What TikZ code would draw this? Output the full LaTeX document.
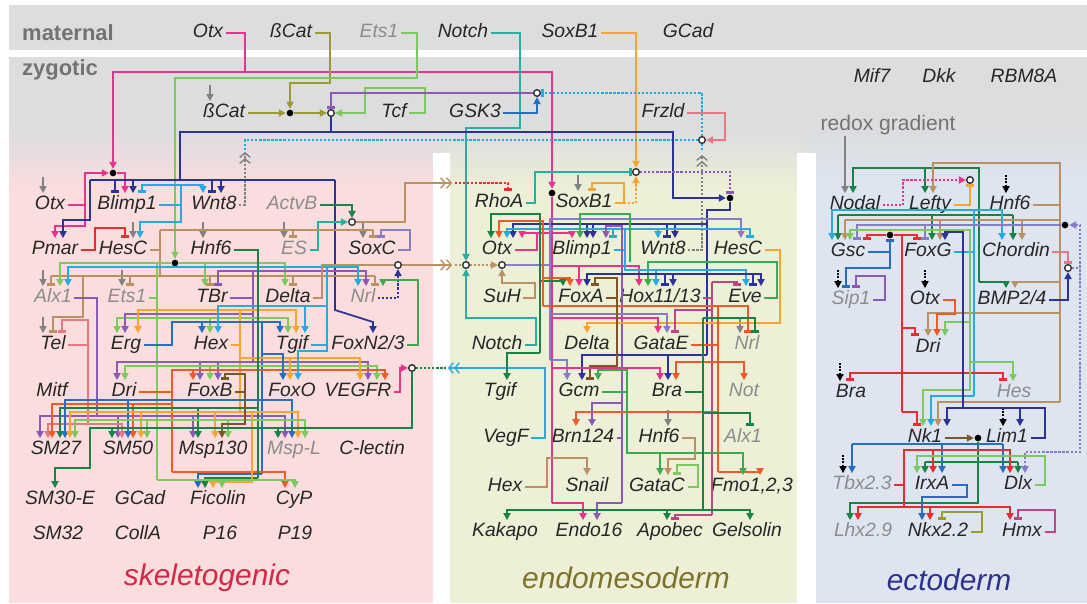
\documentclass[tikz,border=0pt]{standalone}
\usepackage{fontspec}
\setmainfont{Liberation Sans}
\usetikzlibrary{arrows.meta, calc}

\definecolor{bandgray}{RGB}{220,221,223}
\definecolor{skelpink}{RGB}{251,221,222}
\definecolor{endoyel}{RGB}{237,239,214}
\definecolor{ectoblue}{RGB}{222,229,241}
\definecolor{pinkc}{RGB}{232,50,140}
\definecolor{olivec}{RGB}{155,155,50}
\definecolor{lgreen}{RGB}{125,200,95}
\definecolor{mgreen}{RGB}{60,170,80}
\definecolor{tealc}{RGB}{40,175,160}
\definecolor{orangec}{RGB}{245,165,50}
\definecolor{navyc}{RGB}{45,50,150}
\definecolor{skyc}{RGB}{40,170,225}
\definecolor{bluem}{RGB}{40,110,190}
\definecolor{purplec}{RGB}{140,90,180}
\definecolor{lavc}{RGB}{135,125,195}
\definecolor{tanc}{RGB}{185,145,100}
\definecolor{brownc}{RGB}{125,85,40}
\definecolor{redc}{RGB}{230,45,50}
\definecolor{oredc}{RGB}{240,90,40}
\definecolor{dgreen}{RGB}{25,130,70}
\definecolor{mauvec}{RGB}{190,70,130}
\definecolor{salmonc}{RGB}{230,120,130}
\definecolor{grayc}{RGB}{130,130,130}

\newcommand{\genefont}{\fontsize{11}{11}\selectfont\itshape}

\begin{document}
\begin{tikzpicture}[
    x=0.02cm, y=-0.02cm,
    line width=1pt,
    gene/.style={font=\genefont, text=black!85, inner sep=1pt, text height=8pt, text depth=2.5pt},
    ggene/.style={gene, text=black!45},
    band/.style={font=\fontsize{12.5}{13}\selectfont\bfseries, text=black!55},
    region/.style={font=\fontsize{17}{17}\selectfont\itshape},
    act/.style={-{Triangle[length=4pt,width=4pt]}},
    rep/.style={-{Bar[width=4.5pt,line width=1.6pt]}},
    bothact/.style={{Triangle[length=4pt,width=4pt]}-{Triangle[length=4pt,width=4pt]}},
    chev/.style={-{Straight Barb[length=2.5pt,width=6pt,line width=0.8pt]Straight Barb[length=2.5pt,width=6pt,line width=0.8pt]}},
    sig/.style={densely dotted, line width=1.3pt},
    inp/.style={grayc, line width=0.8pt, -{Triangle[length=4pt,width=4pt]}},
    dinp/.style={black, densely dotted, line width=0.8pt, -{Triangle[length=4pt,width=4pt]}},
    blackdot/.style={circle, fill=black, inner sep=0pt, minimum size=3.8pt},
    junc/.style={circle, draw=black!80, fill=white, line width=0.8pt, inner sep=0pt, minimum size=3.8pt}
]
\useasboundingbox (0,0) rectangle (1087,603);

% Backgrounds
\fill[bandgray] (9,5) rectangle (1087,50);
\fill[bandgray] (9,57) rectangle (1087,132);
\shade[top color=bandgray, bottom color=skelpink] (9,131) rectangle (441,190);
\shade[top color=bandgray, bottom color=endoyel] (441,131) rectangle (806,190);
\shade[top color=bandgray, bottom color=ectoblue] (806,131) rectangle (1087,190);
\fill[skelpink] (9,189) rectangle (441,603);
\fill[endoyel] (441,189) rectangle (806,603);
\fill[ectoblue] (806,189) rectangle (1087,603);
\fill[white] (433,153) rectangle (450,603);
\fill[white] (797,153) rectangle (816,603);

% Maternal
\node[band] (lblMat) at (68,33) {maternal};
\node[gene] (mOtx) at (208,33) {Otx};
\node[gene] (mBCat) at (291,33) {ßCat};
\node[ggene] (mEts) at (379,33) {Ets1};
\node[gene] (mNotch) at (463,33) {Notch};
\node[gene] (mSoxB) at (570,33) {SoxB1};
\node[gene] (mGCad) at (688,33) {GCad};

% Zygotic
\node[band] (lblZyg) at (60,70) {zygotic};
\node[gene] (zBCat) at (224,113) {ßCat};
\node[gene] (zTcf) at (394,113) {Tcf};
\node[gene] (zGSK) at (475,113) {GSK3};
\node[gene] (zFrzld) at (663,113) {Frzld};
\node[gene] (zMif) at (872,78) {Mif7};
\node[gene] (zDkk) at (939,78) {Dkk};
\node[gene] (zRBM) at (1024,78) {RBM8A};
\node[font=\fontsize{12}{12}\selectfont, text=black!55] (redox) at (888,125) {redox gradient};

% Skeletogenic
\node[gene] (skOtx) at (50,205) {Otx};
\node[gene] (skBlimp) at (127,205) {Blimp1};
\node[gene] (skWnt) at (214,205) {Wnt8};
\node[ggene] (skActvB) at (292,205) {ActvB};
\node[gene] (skPmar) at (55,250) {Pmar};
\node[gene] (skHesC) at (123,250) {HesC};
\node[gene] (skHnf) at (211,250) {Hnf6};
\node[ggene] (skES) at (294,250) {ES};
\node[gene] (skSoxC) at (372,250) {SoxC};
\node[ggene] (skAlx) at (53,298) {Alx1};
\node[ggene] (skEts) at (127,298) {Ets1};
\node[gene] (skTBr) at (212,298) {TBr};
\node[gene] (skDelta) at (288,298) {Delta};
\node[ggene] (skNrl) at (363,298) {Nrl};
\node[gene] (skTel) at (53,345) {Tel};
\node[gene] (skErg) at (126,345) {Erg};
\node[gene] (skHex) at (211,345) {Hex};
\node[gene] (skTgif) at (292,345) {Tgif};
\node[gene] (skFoxN) at (368,345) {FoxN2/3};
\node[gene] (skMitf) at (52,392) {Mitf};
\node[gene] (skDri) at (124,392) {Dri};
\node[gene] (skFoxB) at (210,392) {FoxB};
\node[gene] (skFoxO) at (292,392) {FoxO};
\node[gene] (skVEGFR) at (358,392) {VEGFR};
\node[gene] (skSM27) at (56,450) {SM27};
\node[gene] (skSM50) at (128,450) {SM50};
\node[gene] (skMsp) at (213,450) {Msp130};
\node[ggene] (skMspL) at (294,450) {Msp-L};
\node[gene] (skClec) at (372,450) {C-lectin};
\node[gene] (skSM30) at (60,500) {SM30-E};
\node[gene] (skGCad) at (140,500) {GCad};
\node[gene] (skFic) at (218,500) {Ficolin};
\node[gene] (skCyP) at (294,500) {CyP};
\node[gene] (skSM32) at (58,535) {SM32};
\node[gene] (skColl) at (138,535) {CollA};
\node[gene] (skP16) at (220,535) {P16};
\node[gene] (skP19) at (295,535) {P19};
\node[region, text={rgb,255:red,210;green,40;blue,70}] (lblSkel) at (207,578) {skeletogenic};

% Endomesoderm
\node[gene] (enRhoA) at (499,203) {RhoA};
\node[gene] (enSoxB) at (584,203) {SoxB1};
\node[gene] (enOtx) at (497,250) {Otx};
\node[gene] (enBlimp) at (582,250) {Blimp1};
\node[gene] (enWnt) at (663,250) {Wnt8};
\node[gene] (enHesC) at (738,250) {HesC};
\node[gene] (enSuH) at (502,298) {SuH};
\node[gene] (enFoxA) at (581,298) {FoxA};
\node[gene] (enHox) at (660,298) {Hox11/13};
\node[gene] (enEve) at (745,298) {Eve};
\node[gene] (enNotch) at (497,345) {Notch};
\node[gene] (enDelta) at (587,345) {Delta};
\node[gene] (enGataE) at (661,345) {GataE};
\node[ggene] (enNrl) at (747,345) {Nrl};
\node[gene] (enTgif) at (500,392) {Tgif};
\node[gene] (enGcm) at (579,392) {Gcm};
\node[gene] (enBra) at (667,392) {Bra};
\node[ggene] (enNot) at (744,392) {Not};
\node[gene] (enVegF) at (506,438) {VegF};
\node[gene] (enBrn) at (583,438) {Brn124};
\node[gene] (enHnf) at (659,438) {Hnf6};
\node[ggene] (enAlx) at (743,438) {Alx1};
\node[gene] (enHex) at (505,487) {Hex};
\node[gene] (enSnail) at (587,487) {Snail};
\node[gene] (enGataC) at (657,487) {GataC};
\node[gene] (enFmo) at (752,487) {Fmo1,2,3};
\node[gene] (enKak) at (505,532) {Kakapo};
\node[gene] (enEndo) at (589,532) {Endo16};
\node[gene] (enApo) at (670,532) {Apobec};
\node[gene] (enGel) at (747,532) {Gelsolin};
\node[region, text={rgb,255:red,125;green,115;blue,45}] (lblEndo) at (626,578) {endomesoderm};

% Ectoderm
\node[gene] (ecNodal) at (855,205) {Nodal};
\node[gene] (ecLefty) at (930,205) {Lefty};
\node[gene] (ecHnf) at (1010,205) {Hnf6};
\node[gene] (ecGsc) at (848,252) {Gsc};
\node[gene] (ecFoxG) at (928,252) {FoxG};
\node[gene] (ecChord) at (1016,252) {Chordin};
\node[ggene] (ecSip) at (851,300) {Sip1};
\node[gene] (ecOtx) at (925,300) {Otx};
\node[gene] (ecBMP) at (1012,300) {BMP2/4};
\node[gene] (ecDri) at (928,348) {Dri};
\node[gene] (ecBra) at (851,393) {Bra};
\node[ggene] (ecHes) at (1014,393) {Hes};
\node[gene] (ecNk1) at (925,438) {Nk1};
\node[gene] (ecLim) at (1007,438) {Lim1};
\node[ggene] (ecTbx) at (862,485) {Tbx2.3};
\node[gene] (ecIrx) at (932,485) {IrxA};
\node[gene] (ecDlx) at (1018,485) {Dlx};
\node[ggene] (ecLhx) at (863,532) {Lhx2.9};
\node[gene] (ecNkx) at (938,532) {Nkx2.2};
\node[gene] (ecHmx) at (1022,532) {Hmx};
\node[region, text={rgb,255:red,45;green,50;blue,140}] (lblEcto) at (949,580) {ectoderm};

% Junctions
\node[blackdot] (zDot1) at (290,113) {};
\node[junc] (zJ1) at (331,113) {};
\node[junc] (zJ2) at (537,93) {};
\node[junc] (zJ3) at (702,140) {};
\node[blackdot] (skDot1) at (113,173) {};
\node[blackdot] (skDot2) at (175,263) {};
\node[junc] (skJ1) at (352,222) {};
\node[junc] (skJ2) at (398,265) {};
\node[junc] (skJ3) at (412,368) {};
\node[blackdot] (enDot1) at (552,193) {};
\node[junc] (enJ1) at (636,172) {};
\node[blackdot] (enDot2) at (730,198) {};
\node[junc] (enJ2) at (466,265) {};
\node[junc] (enJ3) at (502,265) {};
\node[junc] (ecJ1) at (970,180) {};
\node[blackdot] (ecDot1) at (1065,225) {};
\node[junc] (ecJ2) at (1068,268) {};
\node[blackdot] (ecDot2) at (890,235) {};
\node[blackdot] (ecDot3) at (978,438) {};

% Maternal inputs
\draw[act,pinkc] (mOtx.east) -| (245,72) -| (enDot1.north);
\draw[act,pinkc] (245,72) -| (skDot1.north);
\draw[act,olivec] (mBCat.east) -| (330,83) -| (zDot1.north);
\draw[act,lgreen] (mEts.east) -| (417,78) -| (skDot2.north);
\draw[act,tealc] (mNotch.east) -| (520,128) -| (enJ2.north);
\draw[act,orangec] (mSoxB.east) -| (enJ1.north);

% Wnt / beta-catenin
\draw[inp] ($(zBCat.north)+(-14,-16)$) -- ++(0,16);
\draw[act,olivec] (zBCat.east) -- (zDot1.west);
\draw[act,olivec] (zDot1.east) -- (zJ1.west);
\draw[act,lgreen] (zTcf.east) -- (425,113) |- (365,88) |- (zJ1.east);
\draw[act,bluem] (zGSK.east) -| (zJ2.south);
\draw[rep,purplec] (zJ2.west) -| (zJ1.north);
\draw[rep,skyc,sig] (zJ3.north) |- (zJ2.east);
\draw[act,salmonc] (zFrzld.east) -| (725,140) -- (zJ3.east);
\draw[skyc,sig] (245,150) |- (zJ3.west);
\draw[grayc,sig,chev] (skWnt.east) -| (245,152);
\draw[grayc,sig,chev] (enWnt.east) -| (702,155);
\draw[skyc,sig] (702,150) -- (zJ3.south);
\draw[act,navyc] (zJ1.south) |- (673,132) |- (enDot2.west);

% Skeletogenic: inputs
\draw[inp] ($(skOtx.north)+(-7,-16)$) -- ++(0,16);
\draw[inp] ($(skHesC.north)+(10,-16)$) -- ++(0,16);
\draw[inp] ($(skHnf.north)+(-8,-16)$) -- ++(0,16);
\draw[inp] ($(skES.north)+(-10,-16)$) -- ++(0,16);
\draw[inp] ($(skSoxC.north)+(-9,-16)$) -- ++(0,16);
\draw[inp] ($(skAlx.north)+(-10,-16)$) -- ++(0,16);
\draw[inp] ($(skEts.north)+(-5,-16)$) -- ++(0,16);
\draw[inp] ($(skTel.north)+(-10,-16)$) -- ++(0,16);

% Skeletogenic: top
\draw[act,pinkc] (skOtx.east) -- (85,205) |- (skDot1.west);
\draw[act,pinkc] (85,205) |- (55,226) -- (skPmar.north);
\draw[act,pinkc] (skDot1.east) -| ($(skBlimp.north)+(-2,0)$);
\draw[navyc] (331,132) -| (180,180) (90,180) -- (335,180);
\draw[act,navyc] (90,180) |- (63,220) -- ($(skPmar.north)+(8,0)$);
\draw[navyc] (115,180) edge[rep] ($(skBlimp.north)+(-12,0)$) (133,180) edge[act] ($(skBlimp.north)+(6,0)$)
    (212,180) edge[rep] ($(skWnt.north)+(-2,0)$) (221,180) edge[act] ($(skWnt.north)+(7,0)$);
\draw[act,navyc] (335,180) -- (335,310) -- (373,322) -- ($(skFoxN.north)+(5,0)$);
\draw[act,skyc] (skBlimp.east) -- (181,205) |- (203,185) -- ($(skWnt.north)+(-11,0)$);
\draw[rep,skyc] (181,185) -| ($(skBlimp.north)+(15,0)$);
\draw[act,skyc] (181,205) |- (140,222) -- ($(skHesC.north)+(17,0)$);
\draw[rep,redc] (skPmar.east) -- (95,250) |- (125,228) -- ($(skHesC.north)+(2,0)$);
\draw[act,dgreen] (skActvB.east) -| (skJ1.north);
\draw[act,tealc] (skES.east) -- (318,250) |- (skJ1.west);
\draw[rep,lavc] (skSoxC.east) -- (410,250) |- (381,230) -- ($(skSoxC.north)+(9,0)$);

% Skeletogenic: HesC repression
\draw[tanc] (skHesC.east) -- (160,250) (160,230) -- (160,276);
\draw[tanc] (160,230) -- (373,230) (293,230) edge[rep] ($(skES.north)+(-1,0)$) (373,230) edge[rep] ($(skSoxC.north)+(1,0)$);
\draw[tanc] (51,276) -- (375,276) (51,276) edge[rep] ($(skAlx.north)+(-2,0)$) (130,276) edge[rep] ($(skEts.north)+(3,0)$)
    (210,276) edge[rep] ($(skTBr.north)+(-2,0)$) (293,276) edge[rep] ($(skDelta.north)+(5,0)$) (375,276) edge[rep] ($(skNrl.north)+(12,0)$);
\draw[rep,tanc] (83,276) |- (53,317) -- (skTel.north);

% Skeletogenic: Ets1 / Alx1 level
\draw[act,lgreen] (skDot2.west) -| ($(skAlx.north)+(7,0)$);
\draw[act,lgreen] (skDot2.east) -| ($(skDelta.north)+(-3,0)$);
\draw[lgreen] (205,263) edge[act] ($(skTBr.north)+(-7,0)$);
\draw[lgreen] (skEts.east) -- (157,298) (157,263) -- (157,480);
\draw[purplec] (skTBr.east) -- (253,298) (253,271) -- (253,362);
\draw[rep,purplec] (253,271) -| ($(skTBr.north)+(6,0)$);
\draw[act,purplec] (253,271) -| ($(skNrl.north)+(3,0)$);
\draw[skyc] (skTgif.east) -| (327,267);
\draw[act,skyc] (327,267) -| ($(skAlx.north)+(15,0)$);
\draw[act,skyc] (327,267) -| ($(skNrl.north)+(-5,0)$);
\draw[tanc] (skDelta.east) -- (322,298) |- (skJ2.west);
\draw[act,navyc,sig] (skNrl.east) -| (skJ2.south);
\draw[act,mgreen] (skFoxN.east) -- (418,345) |- (383,280) -- ($(skNrl.north)+(20,0)$);

% Skeletogenic: Erg / Hex / Tgif
\draw[act,lgreen] (157,318) -| ($(skErg.north)+(-9,0)$);
\draw[act,lgreen] (157,318) -| ($(skHex.north)+(-1,0)$);
\draw[act,lgreen] (157,318) -| ($(skTgif.north)+(-4,0)$);
\draw[act,purplec] (253,314) -| ($(skErg.north)+(-1,0)$);
\draw[orangec] (skHex.east) -- (240,345) (240,310) -- (240,412);
\draw[act,orangec] (240,310) -| ($(skErg.north)+(12,0)$);
\draw[act,orangec] (240,310) -| ($(skTgif.north)+(4,0)$);
\draw[bluem] (skErg.east) -| (172,322) -- (262,322) -- (262,474);
\draw[bluem] (202,322) edge[act] ($(skHex.north)+(-9,0)$);
\draw[act,bluem] (262,322) -| ($(skTgif.north)+(-12,0)$);
\draw[act,skyc] (327,306) -| ($(skHex.north)+(7,0)$);
\draw[skyc] (305,306) edge[act] ($(skTgif.north)+(13,0)$);
\draw[rep,salmonc] (skTel.east) -| (88,320) -| ($(skTel.north)+(9,0)$);

% Skeletogenic: Dri / FoxB / FoxO / VEGFR
\draw[act,purplec] (253,362) -| ($(skDri.north)+(-7,0)$);
\draw[act,purplec] (253,362) -| ($(skFoxB.north)+(-10,0)$);
\draw[act,purplec] (253,362) -| ($(skFoxB.north)+(8,0)$);
\draw[act,purplec] (253,362) -| ($(skVEGFR.north)+(10,0)$);
\draw[act,lgreen] (157,366) -| ($(skDri.north)+(1,0)$);
\draw[act,lgreen] (157,366) -| ($(skFoxB.north)+(0,0)$);
\draw[act,lgreen] (157,366) -| ($(skVEGFR.north)+(19,0)$);
\draw[act,oredc] (skDri.east) -| (172,370) -| ($(skFoxB.north)+(-17,0)$);
\draw[act,oredc] (172,370) -| ($(skVEGFR.north)+(27,0)$);
\draw[act,orangec] (240,358) -| ($(skFoxO.north)+(-2,0)$);
\draw[act,orangec] (240,358) -| ($(skVEGFR.north)+(2,0)$);
\draw[act,bluem] (262,354) -| ($(skFoxO.north)+(-9,0)$);
\draw[act,skyc] (327,345) -- (327,351) -| ($(skFoxO.north)+(6,0)$);
\draw[rep,brownc] (skFoxB.east) -- (245,392) |- (225,374) -- ($(skFoxB.north)+(15,0)$);
\draw[act,pinkc] (skVEGFR.east) -- (400,392) |- (skJ3.west);

% Skeletogenic: differentiation genes
\draw[purplec] (skAlx.east) -- (97,298) -- (97,416);
\draw[act,purplec] (97,416) -| ($(skSM27.north)+(-16,0)$);
\draw[act,purplec] (97,416) -| ($(skSM50.north)+(-10,0)$);
\draw[act,purplec] (97,416) -| ($(skMsp.north)+(-20,0)$);
\draw[act,purplec] (97,416) -| ($(skMspL.north)+(-9,0)$);
\draw[act,salmonc] (88,345) |- (48,424) -- ($(skSM27.north)+(-8,0)$);
\draw[act,salmonc] (88,424) -| ($(skSM50.north)+(-6,0)$);
\draw[oredc] (172,392) -- (172,472);
\draw[act,oredc] (172,404) -| ($(skSM27.north)+(-4,0)$);
\draw[act,oredc] (172,404) -| ($(skSM50.north)+(5,0)$);
\draw[act,oredc] (172,472) -| ($(skCyP.north)+(-9,0)$);
\draw[dgreen] (skHnf.east) -| (258,478);
\draw[act,dgreen] (258,408) -| ($(skSM27.north)+(4,0)$);
\draw[act,dgreen] (258,408) -| ($(skMsp.north)+(-15,0)$);
\draw[act,dgreen] (258,478) -| ($(skFic.north)+(-13,0)$);
\draw[act,bluem] (262,400) -| ($(skSM27.north)+(9,0)$);
\draw[act,bluem] (262,400) -| ($(skSM50.north)+(0,0)$);
\draw[act,bluem] (262,400) -| ($(skMspL.north)+(-2,0)$);
\draw[act,bluem] (262,474) -| ($(skFic.north)+(-20,0)$);
\draw[act,orangec] (240,412) -| ($(skSM27.north)+(14,0)$);
\draw[act,orangec] (240,412) -| ($(skSM50.north)+(13,0)$);
\draw[act,orangec] (240,412) -| ($(skMsp.north)+(2,0)$);
\draw[act,orangec] (240,412) -| ($(skMspL.north)+(4,0)$);
\draw[act,orangec] (240,412) -| (252,482) -| ($(skFic.north)+(-5,0)$);
\draw[act,lgreen] (157,420) -| ($(skSM27.north)+(19,0)$);
\draw[act,lgreen] (157,420) -| ($(skSM50.north)+(19,0)$);
\draw[act,lgreen] (157,420) -| ($(skMsp.north)+(15,0)$);
\draw[act,lgreen] (157,420) -| ($(skMspL.north)+(11,0)$);
\draw[act,lgreen] (157,480) -| ($(skFic.north)+(4,0)$);
\draw[act,lgreen] (157,480) -| ($(skCyP.north)+(1,0)$);
\draw[act,brownc] (245,392) |- (222,424) -- ($(skMsp.north)+(9,0)$);
\draw[act,dgreen] (skJ3.south) |- (90,428) -- (90,468) -| ($(skSM30.north)+(-5,0)$);
\draw[dgreen] (112,428) edge[act] ($(skSM50.north)+(-16,0)$) (278,428) edge[act] ($(skMspL.north)+(-16,0)$);

% Signals between territories
\draw[tanc,chev] (skJ1.east) -- (405,222) |- (452,183);
\draw[rep,redc,sig] (455,183) -| ($(enRhoA.north)+(9,0)$);
\draw[tanc,chev] (skJ2.east) -- (452,265);
\draw[tanc,sig] (455,265) -- (enJ2.west);
\draw[act,tanc,sig] (enJ2.east) -- (enJ3.west);
\draw[dgreen,sig] (skJ3.east) -- (446,368);
\draw[skyc,chev] (enVegF.east) -- (545,438) |- (448,368);

% Endomesoderm: inputs
\draw[inp] ($(enSoxB.north)+(-6,-16)$) -- ++(0,16);
\draw[inp] ($(enNrl.north)+(-7,-16)$) -- ++(0,16);
\draw[inp] ($(enHnf.north)+(9,-16)$) -- ++(0,16);

% Endomesoderm: top
\draw[rep,tealc] (enRhoA.east) -- (535,203) |- (enJ1.west);
\draw[rep,purplec,sig] (enJ1.east) -| (enDot2.north);
\draw[rep,orangec] (enSoxB.east) -- (624,203) |- (592,183) -- ($(enSoxB.north)+(8,0)$);
\draw[act,orangec,sig] (624,203) -| (enJ1.south);
\draw[act,tanc] (enSuH.east) -- (535,298) |- (502,283) -- (enJ3.south);
\draw[act,tealc] (enNotch.east) -- (536,345) |- (466,318) -- (enJ2.south);
\draw[lavc, line width=1.3pt] (enJ3.east) -- (550,265);

% Endomesoderm: Otx / Blimp1 / Wnt8 / HesC
\draw[pinkc] (enDot1.south) -- (552,503);
\draw[act,pinkc] (enOtx.east) -- (537,250) |- (522,233) -- ($(enOtx.north)+(25,0)$);
\draw[act,pinkc] (537,233) -| ($(enBlimp.north)+(-10,0)$);
\draw[navyc] (enDot2.south) |- (707,210) -- (707,355);
\draw[act,navyc] (707,224) -| ($(enOtx.north)+(16,0)$);
\draw[act,navyc] (707,224) -| ($(enBlimp.north)+(5,0)$);
\draw[act,navyc] (707,224) -| ($(enBlimp.north)+(11,0)$);
\draw[act,navyc] (707,224) -| ($(enWnt.north)+(12,0)$);
\draw[rep,navyc] (707,224) -| ($(enWnt.north)+(4,0)$);
\draw[act,lavc, line width=1.3pt] (550,360) |- (741,219) -- ($(enHesC.north)+(3,0)$);
\draw[act,skyc] (enBlimp.east) -- (625,250) |- (507,229) -- ($(enOtx.north)+(10,0)$);
\draw[act,skyc] (625,229) -| ($(enWnt.north)+(-5,0)$);
\draw[rep,skyc] (625,229) -| ($(enHesC.north)+(12,0)$);
\draw[rep,skyc] (613,229) -- ($(enBlimp.north)+(31,0)$);
\draw[act,dgreen] (540,353) |- (491,214) -- ($(enOtx.north)+(-6,0)$);
\draw[act,dgreen] (540,281) -| ($(enFoxA.north)+(-18,0)$);
\draw[act,dgreen] (540,353) -| ($(enTgif.north)+(7,0)$);
\draw[act,mgreen] (enEve.east) -- (777,298) |- (648,262) -- ($(enHox.north)+(-12,0)$);
\draw[act,mgreen] (630,262) |- (580,214) -- ($(enBlimp.north)+(-2,0)$);
\draw[act,purplec] (622,503) |- (606,226) -- ($(enBlimp.north)+(24,0)$);

% Endomesoderm: FoxA / Hox11/13 / Eve
\draw[act,pinkc] (552,266) -| ($(enFoxA.north)+(-2,0)$);
\draw[act,pinkc] (552,266) -| ($(enHox.north)+(-21,0)$);
\draw[act,skyc] (625,250) |- (746,270) -- ($(enEve.north)+(1,0)$);
\draw[skyc] (656,270) edge[act] ($(enHox.north)+(-4,0)$);
\draw[act,navyc] (707,274) -| ($(enFoxA.north)+(6,0)$);
\draw[rep,navyc] (707,274) -| ($(enHox.north)+(5,0)$);
\draw[act,navyc] (707,274) -| ($(enHox.north)+(13,0)$);
\draw[rep,navyc] (707,274) -| ($(enEve.north)+(8,0)$);
\draw[act,navyc] (707,274) -| ($(enEve.north)+(16,0)$);
\draw[act,oredc] (543,306) |- (499,221) -- ($(enOtx.north)+(2,0)$);
\draw[act,oredc] (543,278) -| ($(enFoxA.north)+(-11,0)$);
\draw[rep,brownc] (enFoxA.east) -- (617,298) |- (595,278) -- ($(enFoxA.north)+(14,0)$);
\draw[mauvec] (enHox.east) -- (712,298) (712,282) -- (712,515);
\draw[rep,mauvec] (712,282) -| ($(enEve.north)+(-8,0)$);

% Endomesoderm: Delta / GataE / Nrl
\draw[act,orangec] (enHesC.east) -- (780,250) |- (587,323) -- (enDelta.north);
\draw[act,pinkc] (552,318) -| ($(enGataE.north)+(-3,0)$);
\draw[act,lavc, line width=1.3pt] (550,314) -| ($(enGataE.north)+(6,0)$);
\draw[rep,mauvec] (712,310) -| ($(enGataE.north)+(14,0)$);
\draw[rep,oredc] (543,306) -| ($(enNrl.north)+(1,0)$);
\draw[oredc] (enGataE.east) -- (718,345) (718,306) -- (718,472);

% Endomesoderm: Tgif / Gcm / Bra / Not
\draw[act,lavc, line width=1.3pt] (550,360) -| ($(enGcm.north)+(-12,0)$);
\draw[act,navyc] (707,355) -| ($(enGcm.north)+(3,0)$);
\draw[act,navyc] (707,355) -| ($(enBra.north)+(1,0)$);
\draw[rep,brownc] (617,298) |- (590,366) -- ($(enGcm.north)+(11,0)$);
\draw[act,mgreen] (enGcm.east) -- (627,392) |- (598,370) -- ($(enGcm.north)+(19,0)$);
\draw[act,pinkc] (552,368) -| ($(enBra.north)+(-7,0)$);
\draw[act,oredc] (718,362) -| ($(enBra.north)+(9,0)$);
\draw[act,oredc] (718,362) -| ($(enNot.north)+(0,0)$);
\draw[dgreen] (enBra.east) -- (703,392);
\draw[rep,dgreen] (703,318) -| ($(enNrl.north)+(8,0)$);

% Endomesoderm: lower genes
\draw[act,oredc] (718,412) -| ($(enBrn.north)+(-7,0)$);
\draw[act,oredc] (718,472) -| ($(enFmo.north)+(8,0)$);
\draw[purplec] (enBrn.east) -- (622,438);
\draw[act,purplec] (622,403) -| ($(enBrn.north)+(9,0)$);
\draw[rep,dgreen] (703,413) -| ($(enAlx.north)+(7,0)$);
\draw[act,mgreen] (627,392) |- (743,453) -- ($(enFmo.north)+(-9,0)$);
\draw[mgreen] (660,453) edge[act] ($(enGataC.north)+(3,0)$);
\draw[act,tanc] (enHnf.east) -- (695,438) |- (668,459) -- ($(enGataC.north)+(11,0)$);
\draw[rep,lgreen] (enGataC.east) -- (698,487) |- (677,465) -- ($(enGataC.north)+(20,0)$);
\draw[act,tanc] (enHex.east) -- (547,487) |- (587,458) -- (enSnail.north);
\draw[act,pinkc] (552,503) -| ($(enEndo.north)+(-6,0)$);
\draw[act,purplec] (622,503) -| ($(enEndo.north)+(8,0)$);
\draw[act,dgreen] (703,318) -- (703,510) -| ($(enKak.north)+(2,0)$);
\draw[act,dgreen] (703,510) -| ($(enGel.north)+(3,0)$);
\draw[dgreen] (667,510) edge[act] ($(enApo.north)+(-3,0)$);
\draw[rep,mauvec] (712,515) -| ($(enApo.north)+(5,0)$);

% Ectoderm: inputs
\draw[act,grayc] (845,136) -- ($(ecNodal.north)+(-10,0)$);
\draw[dinp] ($(ecHnf.north)+(-4,-18)$) -- ++(0,18);
\draw[dinp] ($(ecSip.north)+(-13,-18)$) -- ++(0,18);
\draw[dinp] ($(ecOtx.north)+(0,-18)$) -- ++(0,18);
\draw[dinp] ($(ecBra.north)+(-11,-18)$) -- ++(0,18);
\draw[dinp] ($(ecLim.north)+(-4,-18)$) -- ++(0,18);
\draw[dinp] ($(ecTbx.north)+(-19,-18)$) -- ++(0,18);

% Ectoderm: Nodal / Lefty
\draw[act,dgreen] (979,282) |- (853,168) -- ($(ecNodal.north)+(-2,0)$);
\draw[dgreen] (925,168) edge[act] ($(ecLefty.north)+(-5,0)$);
\draw[act,dgreen] (979,282) -| ($(ecBMP.north)+(-6,0)$);
\draw[dgreen] (838,215) -- (1013,215) (838,215) edge[act] ($(ecGsc.north)+(-10,0)$)
    (932,215) edge[act] ($(ecFoxG.north)+(4,0)$) (1013,215) edge[act] ($(ecChord.north)+(-3,0)$);
\draw[tanc] (ecHnf.east) -- (1060,205);
\draw[act,tanc] (1060,402) |- (933,163) -- ($(ecLefty.north)+(3,0)$);
\draw[tanc] (845,220) -- (1060,220) (845,220) edge[act] ($(ecGsc.north)+(-3,0)$)
    (940,220) edge[act] ($(ecFoxG.north)+(12,0)$) (1022,220) edge[act] ($(ecChord.north)+(6,0)$);
\draw[act,tanc] (1060,282) -| ($(ecBMP.north)+(3,0)$);
\draw[act,tanc] (1060,313) -| ($(ecDri.north)+(0,0)$);
\draw[act,tanc] (1060,402) -| ($(ecNk1.north)+(13,0)$);
\draw[act,pinkc,sig] (ecNodal.east) -- (903,205) |- (ecJ1.west);
\draw[rep,orangec] (ecLefty.east) -| (ecJ1.south);

% Ectoderm: Gsc / FoxG / Chordin / BMP2/4
\draw[skyc] (ecFoxG.east) -- (974,252);
\draw[act,skyc] (974,396) |- (832,210) -- ($(ecGsc.north)+(-16,0)$);
\draw[act,skyc] (974,210) -| ($(ecChord.north)+(-14,0)$);
\draw[act,skyc] (974,396) -| ($(ecNk1.north)+(6,0)$);
\draw[rep,lavc] (ecDot1.west) -| ($(ecGsc.north)+(9,0)$);
\draw[rep,lavc] (ecDot1.west) -| ($(ecFoxG.north)+(-3,0)$);
\draw[lavc,sig,bothact] (ecDot1.east) -- (1080,225) |- (1025,452) -- ($(ecDlx.north)+(7,0)$);
\draw[lavc,sig] (ecJ2.east) -- (1080,268);
\draw[rep,redc] (ecDot2.west) -| ($(ecGsc.north)+(19,0)$);
\draw[rep,redc] (ecDot2.east) -| ($(ecFoxG.north)+(-11,0)$);
\draw[redc] (902,235) -- (902,412);
\draw[rep,redc] (902,328) -| ($(ecDri.north)+(-13,0)$);
\draw[rep,redc] (902,373) -| ($(ecBra.north)+(-1,0)$);
\draw[rep,redc] (902,373) -| ($(ecHes.north)+(-11,0)$);
\draw[rep,redc] (902,412) -| ($(ecNk1.north)+(-8,0)$);
\draw[rep,bluem] (ecGsc.east) -- (890,252) -- (ecDot2.south);
\draw[rep,bluem] (890,252) |- (846,268) -- ($(ecSip.north)+(-5,0)$);
\draw[rep,purplec] (ecSip.east) -- (885,300) |- (856,276) -- ($(ecSip.north)+(5,0)$);
\draw[rep,salmonc] (ecChord.east) -| (ecJ2.north);
\draw[act,navyc] (ecBMP.east) -| (ecJ2.south);

% Ectoderm: Otx / Dri / Bra / Hes
\draw[act,oredc] (ecOtx.east) -- (955,300) |- (937,314) -- ($(ecDri.north)+(9,0)$);
\draw[act,lgreen] (970,362) |- (850,230) -- ($(ecGsc.north)+(2,0)$);
\draw[act,lgreen] (970,322) -| ($(ecDri.north)+(17,0)$);
\draw[act,lgreen] (970,322) |- (1013,362) -- ($(ecHes.north)+(-1,0)$);
\draw[act,lgreen] (970,362) |- (923,390) -- ($(ecNk1.north)+(-2,0)$);
\draw[act,navyc] (963,408) |- (945,232) -- ($(ecFoxG.north)+(17,0)$);

% Ectoderm: Nk1 / Lim1 and below
\draw[act,navyc] (ecLim.east) -- (1045,438) |- (947,408) -- ($(ecNk1.north)+(22,0)$);
\draw[navyc] (1020,408) edge[act] ($(ecLim.north)+(13,0)$);
\draw[act,brownc] (ecNk1.east) -- (ecDot3.west);
\draw[act,dgreen] (ecDot3.south) |- (850,503) -- ($(ecLhx.north)+(-13,0)$);
\draw[dgreen] (925,462) -- (1018,462) (925,462) edge[act] ($(ecIrx.north)+(-7,0)$) (1018,462) edge[act] ($(ecDlx.north)+(0,0)$);
\draw[bluem] (852,444) -- (1003,444) (852,444) edge[act] ($(ecTbx.north)+(-10,0)$)
    (942,444) edge[act] ($(ecIrx.north)+(10,0)$) (1003,444) edge[act] ($(ecDlx.north)+(-15,0)$);
\draw[redc] (ecTbx.east) -- (904,485);
\draw[act,redc] (904,507) |- (933,450) -- ($(ecIrx.north)+(1,0)$);
\draw[act,redc] (904,450) -| ($(ecDlx.north)+(-8,0)$);
\draw[act,redc] (904,507) -| ($(ecLhx.north)+(-5,0)$);
\draw[act,redc] (904,507) -| ($(ecNkx.north)+(-8,0)$);
\draw[act,redc] (904,507) -| ($(ecHmx.north)+(-12,0)$);
\draw[act,lgreen] (ecDlx.east) -- (1045,485) |- (917,456) -- ($(ecIrx.north)+(-15,0)$);
\draw[act,bluem] (ecIrx.east) -- (967,485) |- (922,497) -- ($(ecNkx.north)+(-16,0)$);
\draw[rep,olivec] (ecNkx.east) -- (982,532) |- (942,512) -- ($(ecNkx.north)+(4,0)$);
\draw[rep,mauvec] (ecHmx.east) -- (1055,532) |- (1018,510) -- ($(ecHmx.north)+(-4,0)$);

\end{tikzpicture}
\end{document}
